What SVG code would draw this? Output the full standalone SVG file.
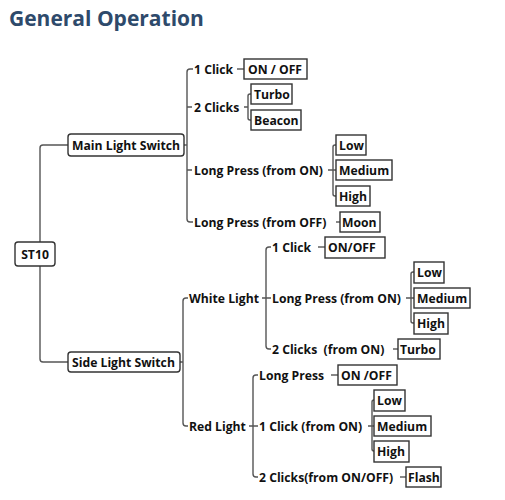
<svg xmlns="http://www.w3.org/2000/svg" width="505" height="500" viewBox="0 0 505 500">
<style>
text{font-family:"Open Sans","Noto Sans","Liberation Sans",sans-serif;font-weight:bold;font-size:12.2px;fill:#111}
.title{font-size:21px;fill:#2e4a6b}
.c{text-anchor:middle}
.l1{fill:#fff;stroke:#333;stroke-width:1.4}
.leaf{fill:#fff;stroke:#333;stroke-width:1.4}
#connectors path{fill:none;stroke:#555;stroke-width:1.4}
</style>
<rect width="505" height="500" fill="#fff"/>
<text class="title" x="9" y="26">General Operation</text>
<g id="connectors">
<path d="M40,242 V148 Q40,145 43,145 H68"/>
<path d="M40,266 V359 Q40,362 43,362 H68"/>
<path d="M184,145 H187"/>
<path d="M193,69 H190 Q187,69 187,72 V219 Q187,222 190,222 H193 M187,107 H192 M187,170 H192"/>
<path d="M237,69 H244"/>
<path d="M244,107 H248 M251,94 H250 Q248,94 248,96 V118 Q248,120 250,120 H251"/>
<path d="M328,170 H336 M336,145 H335 Q333,145 333,147 V194 Q333,196 335,196 H336"/>
<path d="M336,222 H340"/>
<path d="M180,362 H183 M188,298 H186 Q183,298 183,301 V423 Q183,426 186,426 H188"/>
<path d="M262,298 H271 M271,247 H269 Q266,247 266,250 V346 Q266,349 269,349 H271"/>
<path d="M318,247 H325"/>
<path d="M406,298 H414 M414,272 H413 Q411,272 411,274 V321 Q411,323 413,323 H414"/>
<path d="M393,349 H398"/>
<path d="M249,426 H258 M258,375 H256 Q253,375 253,378 V474 Q253,477 256,477 H258"/>
<path d="M331,375 H338"/>
<path d="M368,426 H374 M374,400 H374 Q372,400 372,402 V449 Q372,451 374,451 H374"/>
<path d="M400,477 H406"/>
</g>
<g id="st10"><rect class="l1" x="15" y="242" width="40" height="24" rx="3"/><text class="c" x="35" y="258.5">ST10</text></g>
<g id="main"><rect class="l1" x="68" y="134" width="116" height="22" rx="3"/><text x="72" y="149.5">Main Light Switch</text></g>
<g id="side"><rect class="l1" x="68" y="352" width="112" height="20" rx="3"/><text x="72" y="366.5">Side Light Switch</text></g>
<g id="m-1click"><text x="194" y="73.5">1 Click</text></g>
<g id="m-onoff"><rect class="leaf" x="244" y="59" width="63" height="20"/><text x="248" y="73.5">ON / OFF</text></g>
<g id="m-2clicks"><text x="194" y="111.5">2 Clicks</text></g>
<g id="m-turbo"><rect class="leaf" x="251" y="84" width="41" height="20"/><text x="254" y="98.5">Turbo</text></g>
<g id="m-beacon"><rect class="leaf" x="251" y="110" width="50" height="20"/><text x="254" y="124.5">Beacon</text></g>
<g id="m-lpon"><text x="194" y="174.5">Long Press (from ON)</text></g>
<g id="m-low"><rect class="leaf" x="336" y="135" width="30" height="20"/><text x="339" y="149.5">Low</text></g>
<g id="m-medium"><rect class="leaf" x="336" y="160" width="56" height="20"/><text x="339" y="174.5">Medium</text></g>
<g id="m-high"><rect class="leaf" x="336" y="186" width="34" height="20"/><text x="339" y="200.5">High</text></g>
<g id="m-lpoff"><text x="194" y="226.5">Long Press (from OFF)</text></g>
<g id="m-moon"><rect class="leaf" x="340" y="212" width="40" height="20"/><text x="342" y="226.5">Moon</text></g>
<g id="white"><text x="189" y="302.5">White Light</text></g>
<g id="w-1click"><text x="272" y="251.5">1 Click</text></g>
<g id="w-onoff"><rect class="leaf" x="325" y="237" width="60" height="21"/><text x="328" y="252">ON/OFF</text></g>
<g id="w-lpon"><text x="272" y="302.5">Long Press (from ON)</text></g>
<g id="w-low"><rect class="leaf" x="414" y="262" width="30" height="21"/><text x="417" y="277">Low</text></g>
<g id="w-medium"><rect class="leaf" x="414" y="288" width="56" height="20"/><text x="417" y="302.5">Medium</text></g>
<g id="w-high"><rect class="leaf" x="414" y="313" width="34" height="21"/><text x="417" y="328">High</text></g>
<g id="w-2clicks"><text x="272" y="353.5" xml:space="preserve">2 Clicks  (from ON)</text></g>
<g id="w-turbo"><rect class="leaf" x="398" y="339" width="42" height="20"/><text x="400" y="353.5">Turbo</text></g>
<g id="red"><text x="189" y="430.5">Red Light</text></g>
<g id="r-lp"><text x="259" y="379.5">Long Press</text></g>
<g id="r-onoff"><rect class="leaf" x="338" y="365" width="59" height="20"/><text x="341" y="379.5">ON /OFF</text></g>
<g id="r-1click"><text x="259" y="430.5">1 Click (from ON)</text></g>
<g id="r-low"><rect class="leaf" x="374" y="390" width="31" height="21"/><text x="377" y="405">Low</text></g>
<g id="r-medium"><rect class="leaf" x="374" y="416" width="57" height="20"/><text x="377" y="430.5">Medium</text></g>
<g id="r-high"><rect class="leaf" x="374" y="441" width="35" height="21"/><text x="377" y="456">High</text></g>
<g id="r-2clicks"><text x="259" y="481.5">2 Clicks(from ON/OFF)</text></g>
<g id="r-flash"><rect class="leaf" x="406" y="467" width="35" height="20"/><text x="408" y="481.5">Flash</text></g>
</svg>
